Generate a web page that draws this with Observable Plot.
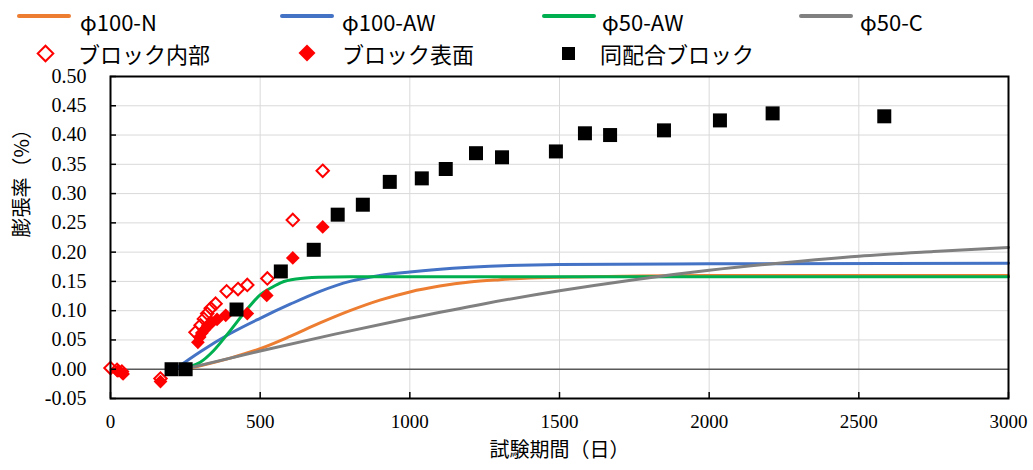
<!DOCTYPE html>
<html>
<head>
<meta charset="utf-8">
<script src="https://cdn.jsdelivr.net/npm/d3@7"></script>
<script src="https://cdn.jsdelivr.net/npm/@observablehq/plot@0.6"></script>
<style>
  body { margin: 0; background: #fff; }
  #legend { position: relative; width: 1033px; height: 64px; font-family: "Noto Sans CJK JP", sans-serif; font-size: 22px; color: #000; }
  .sw { position: absolute; }
  .lbl { position: absolute; white-space: nowrap; line-height: 1; transform: translateY(-50%); }
  svg { display: block; }
</style>
</head>
<body>
<div id="legend"></div>
<div id="chart"></div>
<script>
// ---- Data ----
const xTicks = [0, 500, 1000, 1500, 2000, 2500, 3000];
const yTicks = [-0.05, 0, 0.05, 0.1, 0.15, 0.2, 0.25, 0.3, 0.35, 0.4, 0.45, 0.5];

// φ100-N (orange)
const n100X = [245, 300, 400, 500, 600, 700, 800, 900, 1000, 1100, 1200, 1300, 1400, 1600, 2000, 3000];
const n100Y = [0, 0.006, 0.019, 0.035, 0.056, 0.079, 0.1, 0.118, 0.132, 0.142, 0.149, 0.153, 0.156, 0.158, 0.16, 0.16];
// φ100-AW (blue)
const aw100X = [215, 300, 400, 500, 600, 700, 800, 900, 1000, 1200, 1500, 2000, 3000];
const aw100Y = [0, 0.03, 0.061, 0.087, 0.111, 0.133, 0.15, 0.16, 0.166, 0.174, 0.179, 0.18, 0.181];
// φ50-AW (green)
const aw50X = [235, 270, 300, 345, 400, 457, 500, 540, 570, 620, 700, 800, 3000];
const aw50Y = [0, 0.005, 0.012, 0.032, 0.066, 0.103, 0.127, 0.14, 0.148, 0.154, 0.157, 0.158, 0.158];
// φ50-C (gray)
const c50X = [245, 500, 750, 1000, 1250, 1500, 1750, 2000, 2250, 2500, 2750, 3000];
const c50Y = [0, 0.031, 0.06, 0.087, 0.112, 0.134, 0.153, 0.169, 0.182, 0.193, 0.201, 0.208];

// ブロック内部 (hollow red diamonds)
const naibuX = [0, 22, 38, 167, 284, 301, 312, 323, 335, 351, 388, 426, 457, 524, 609, 709];
const naibuY = [0.002, -0.001, -0.004, -0.016, 0.063, 0.075, 0.086, 0.095, 0.104, 0.112, 0.133, 0.137, 0.144, 0.155, 0.255, 0.339];
// ブロック表面 (filled red diamonds)
const hyomenX = [25, 42, 167, 292, 298, 305, 315, 325, 338, 356, 385, 457, 522, 609, 709];
const hyomenY = [-0.003, -0.008, -0.021, 0.046, 0.055, 0.062, 0.068, 0.075, 0.08, 0.085, 0.092, 0.095, 0.126, 0.19, 0.243];
// 同配合ブロック (black squares)
const doX = [204, 251, 421, 569, 679, 759, 843, 933, 1040, 1120, 1221, 1308, 1488, 1585, 1669, 1849, 2036, 2212, 2585];
const doY = [0, 0, 0.102, 0.167, 0.204, 0.264, 0.281, 0.32, 0.326, 0.342, 0.369, 0.362, 0.372, 0.403, 0.4, 0.408, 0.425, 0.437, 0.432];

const lineNames = ["φ100-N", "φ100-AW", "φ50-AW", "φ50-C"];
const lineColors = ["#ED7D31", "#4472C4", "#00B050", "#808080"];
const markerNames = ["ブロック内部", "ブロック表面", "同配合ブロック"];

// ---- Build tables ----
const pts = (xs, ys) => xs.map((x, i) => ({x, y: ys[i]}));
const curves = [pts(n100X, n100Y), pts(aw100X, aw100Y), pts(aw50X, aw50Y), pts(c50X, c50Y)];

// ---- Legend ----
const legend = document.getElementById("legend");
const lineLeft = [17, 280, 542, 799];
const lineText = [80, 342, 602, 860];
lineNames.forEach((name, i) => {
  const sw = document.createElement("div");
  sw.className = "sw";
  Object.assign(sw.style, {left: lineLeft[i] + "px", top: "14px", width: "54px", height: "4px", borderRadius: "2px", background: lineColors[i]});
  legend.appendChild(sw);
  const t = document.createElement("div");
  t.className = "lbl";
  t.textContent = name;
  Object.assign(t.style, {left: lineText[i] + "px", top: "21px"});
  legend.appendChild(t);
});
const mkCenter = [45, 307, 568];
const mkText = [78, 342, 600];
markerNames.forEach((name, i) => {
  const sw = document.createElement("div");
  sw.className = "sw";
  if (i === 0) Object.assign(sw.style, {left: (mkCenter[i] - 6) + "px", top: "47px", width: "9px", height: "9px", border: "2px solid #FF0000", transform: "rotate(45deg)"});
  if (i === 1) Object.assign(sw.style, {left: (mkCenter[i] - 6) + "px", top: "47px", width: "12px", height: "12px", background: "#FF0000", transform: "rotate(45deg)"});
  if (i === 2) Object.assign(sw.style, {left: (mkCenter[i] - 6) + "px", top: "47px", width: "13px", height: "13px", background: "#000"});
  legend.appendChild(sw);
  const t = document.createElement("div");
  t.className = "lbl";
  t.textContent = name;
  Object.assign(t.style, {left: mkText[i] + "px", top: "53px"});
  legend.appendChild(t);
});

// ---- Chart ----
const chart = Plot.plot({
  width: 1033,
  height: 406,
  marginTop: 12,
  marginBottom: 72,
  marginLeft: 110,
  marginRight: 25,
  x: {domain: [0, 3000]},
  y: {domain: [-0.05, 0.5]},
  style: {fontFamily: "'Liberation Serif', 'Times New Roman', serif", background: "white", color: "black"},
  marks: [
    Plot.ruleY(yTicks.filter(d => d !== 0 && d !== -0.05 && d !== 0.5), {stroke: "#d9d9d9", strokeWidth: 1}),
    Plot.ruleX(xTicks.filter(d => d > 0 && d < 3000), {stroke: "#d9d9d9", strokeWidth: 1}),
    Plot.ruleY([0], {stroke: "#595959", strokeWidth: 1.5}),
    ...curves.map((c, i) => Plot.line(c, {x: "x", y: "y", stroke: lineColors[i], strokeWidth: 3, curve: "monotone-x"})),
    Plot.dot(pts(naibuX, naibuY), {x: "x", y: "y", symbol: "diamond2", r: 5.6, stroke: "#FF0000", strokeWidth: 2, fill: "none"}),
    Plot.dot(pts(hyomenX, hyomenY), {x: "x", y: "y", symbol: "diamond2", r: 6.2, fill: "#FF0000", stroke: "none"}),
    Plot.dot(pts(doX, doY), {x: "x", y: "y", symbol: "square", r: 7.9, fill: "#000", stroke: "none"}),
    Plot.frame({stroke: "black", strokeWidth: 2}),
    Plot.axisX(xTicks, {tickSize: 6, dy: -6, tickFormat: () => "", label: null, stroke: "black", strokeWidth: 1.5}),
    Plot.axisX(xTicks, {tickSize: 0, tickPadding: 16, fontSize: 19, label: null, tickFormat: d => String(d)}),
    Plot.axisY(yTicks, {tickSize: 6, dx: 6, tickFormat: () => "", label: null, stroke: "black", strokeWidth: 1.5}),
    Plot.axisY(yTicks, {tickSize: 0, tickPadding: 24, fontSize: 20, label: null, tickFormat: d => d.toFixed(2)}),
    Plot.text(["膨張率（%）"], {text: d => d, frameAnchor: "left", dx: -88, rotate: -90, fontSize: 20, fontFamily: "'Noto Sans CJK JP', sans-serif"}),
    Plot.text(["試験期間（日）"], {text: d => d, frameAnchor: "bottom", dy: 58, fontSize: 20, fontFamily: "'Noto Sans CJK JP', sans-serif"})
  ]
});
document.getElementById("chart").appendChild(chart);
</script>
</body>
</html>
